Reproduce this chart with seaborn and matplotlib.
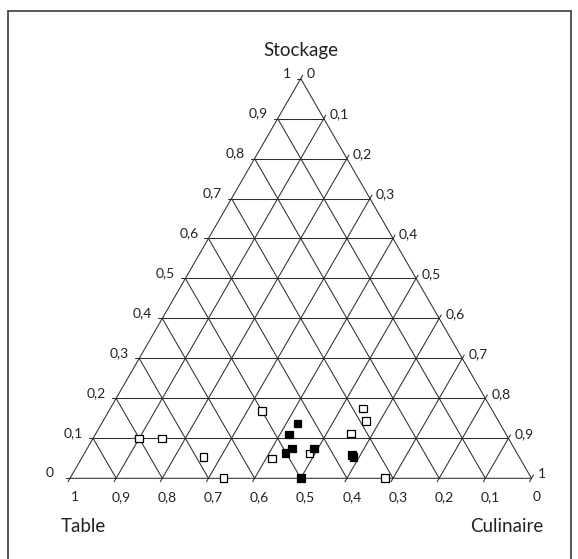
import numpy as np
import pandas as pd
import matplotlib
matplotlib.use("Agg")
import matplotlib.pyplot as plt
from matplotlib.lines import Line2D
import seaborn as sns

# Proportions of use (Table, Culinaire, Stockage) for each variety
table_ouvert = [0.80, 0.75, 0.684, 0.667, 0.50, 0.537, 0.45, 0.335, 0.277, 0.287, 0.317]
culinaire_ouvert = [0.10, 0.15, 0.262, 0.333, 0.331, 0.413, 0.488, 0.553, 0.548, 0.570, 0.683]
stockage_ouvert = [0.10, 0.10, 0.054, 0.0, 0.168, 0.050, 0.062, 0.112, 0.175, 0.143, 0.0]

table_plein = [0.438, 0.470, 0.482, 0.501, 0.434, 0.360, 0.360, 0.50]
culinaire_plein = [0.424, 0.420, 0.443, 0.435, 0.491, 0.582, 0.588, 0.50]
stockage_plein = [0.137, 0.110, 0.075, 0.064, 0.075, 0.058, 0.053, 0.0]

tick_values = [round(0.1 * i, 1) for i in range(11)]
axis_titles = {"top": "Stockage", "left": "Table", "right": "Culinaire"}

SQ3 = np.sqrt(3) / 2


def to_xy(table, culinaire, stockage):
    t, c, s = (np.asarray(v, dtype=float) for v in (table, culinaire, stockage))
    tot = t + c + s
    c, s = c / tot, s / tot
    return c + s / 2, s * SQ3


def fmt(v):
    if v in (0, 1):
        return f"{int(v)}"
    return f"{v:.1f}".replace(".", ",")


sns.set_theme(style="white")
plt.rcParams["font.family"] = ["Lato", "DejaVu Sans"]

W_PX, H_PX = 578, 559
fig = plt.figure(figsize=(W_PX / 100, H_PX / 100), dpi=100)
fig.patch.set_facecolor("white")
ax = fig.add_axes([0, 0, 1, 1])
ax.set_axis_off()

# pixel geometry of the triangle inside the figure
x_left, base_y, side = 70.0, 478.3, 461.5
ax.set_xlim(-x_left / side, (W_PX - x_left) / side)
ax.set_ylim(-(H_PX - base_y) / side, base_y / side)

PT = 0.72  # points per pixel at 100 dpi
GRID = "#2e2e2e"
TXT = "#222222"
lw = 0.75

# outline and grid
ax.plot([0, 1, 0.5, 0], [0, 0, SQ3, 0], color=GRID, lw=lw, zorder=1)
for v in tick_values[1:-1]:
    # constant Stockage
    ax.plot([v / 2, 1 - v / 2], [v * SQ3, v * SQ3], color=GRID, lw=lw, zorder=1)
    # constant Culinaire
    ax.plot([v, v + (1 - v) / 2], [0, (1 - v) * SQ3], color=GRID, lw=lw, zorder=1)
    # constant Table
    ax.plot([1 - v, (1 - v) / 2], [0, (1 - v) * SQ3], color=GRID, lw=lw, zorder=1)

# small ticks on the edges
tk = 4 / side
for v in tick_values:
    lx, ly = v / 2, v * SQ3
    ax.plot([lx - tk, lx], [ly, ly], color=GRID, lw=lw, zorder=1)
    rx, ry = 1 - v / 2, v * SQ3
    ax.plot([rx, rx + tk * 0.5], [ry, ry + tk * SQ3], color=GRID, lw=lw, zorder=1)
    ax.plot([v, v - tk * 0.5], [0, -tk * SQ3], color=GRID, lw=lw, zorder=1)

# tick labels
tfs = 10
for v in tick_values:
    # Stockage values along the left edge
    gap = 16 if v == 0 else 10
    ax.annotate(fmt(v), xy=(v / 2, v * SQ3), xytext=(-gap * PT, 5 * PT),
                textcoords="offset points", ha="right", va="center",
                fontsize=tfs, color=TXT)
    # Culinaire values along the right edge
    ax.annotate(fmt(round(1 - v, 1)), xy=(1 - v / 2, v * SQ3), xytext=(6 * PT, 4.5 * PT),
                textcoords="offset points", ha="left", va="center",
                fontsize=tfs, color=TXT)
    # Table values along the base
    ax.annotate(fmt(round(1 - v, 1)), xy=(v, 0), xytext=(5 * PT, -18.7 * PT),
                textcoords="offset points", ha="center", va="center",
                fontsize=tfs, color=TXT)

# axis titles
tfs2 = 13.5
ax.annotate(axis_titles["top"], xy=(0.5, SQ3), xytext=(0, 28.6 * PT),
            textcoords="offset points", ha="center", va="center",
            fontsize=tfs2, color=TXT)
ax.annotate(axis_titles["left"], xy=(0, 0), xytext=(13.4 * PT, -48 * PT),
            textcoords="offset points", ha="center", va="center",
            fontsize=tfs2, color=TXT)
ax.annotate(axis_titles["right"], xy=(1, 0), xytext=(-24.5 * PT, -48 * PT),
            textcoords="offset points", ha="center", va="center",
            fontsize=tfs2, color=TXT)

# data points
xo, yo = to_xy(table_ouvert, culinaire_ouvert, stockage_ouvert)
xp, yp = to_xy(table_plein, culinaire_plein, stockage_plein)
df = pd.DataFrame({
    "x": np.concatenate([xo, xp]),
    "y": np.concatenate([yo, yp]),
    "groupe": ["ouvert"] * len(xo) + ["plein"] * len(xp),
})
sns.scatterplot(data=df, x="x", y="y", hue="groupe",
                palette={"ouvert": "white", "plein": "black"},
                marker="s", s=30, edgecolor="black", linewidth=0.9,
                legend=False, ax=ax, zorder=3)

# frame around the figure
fc = "#3a3a3a"
L, T, R = 8.3 / W_PX, 1 - 10.7 / H_PX, 570.5 / W_PX
fig.add_artist(Line2D([L, L], [-0.01, T], transform=fig.transFigure, color=fc, lw=1.2))
fig.add_artist(Line2D([L, R], [T, T], transform=fig.transFigure, color=fc, lw=1.2))
fig.add_artist(Line2D([R, R], [-0.01, T], transform=fig.transFigure, color=fc, lw=1.2))

fig.savefig("out.png", dpi=100, facecolor="white")
